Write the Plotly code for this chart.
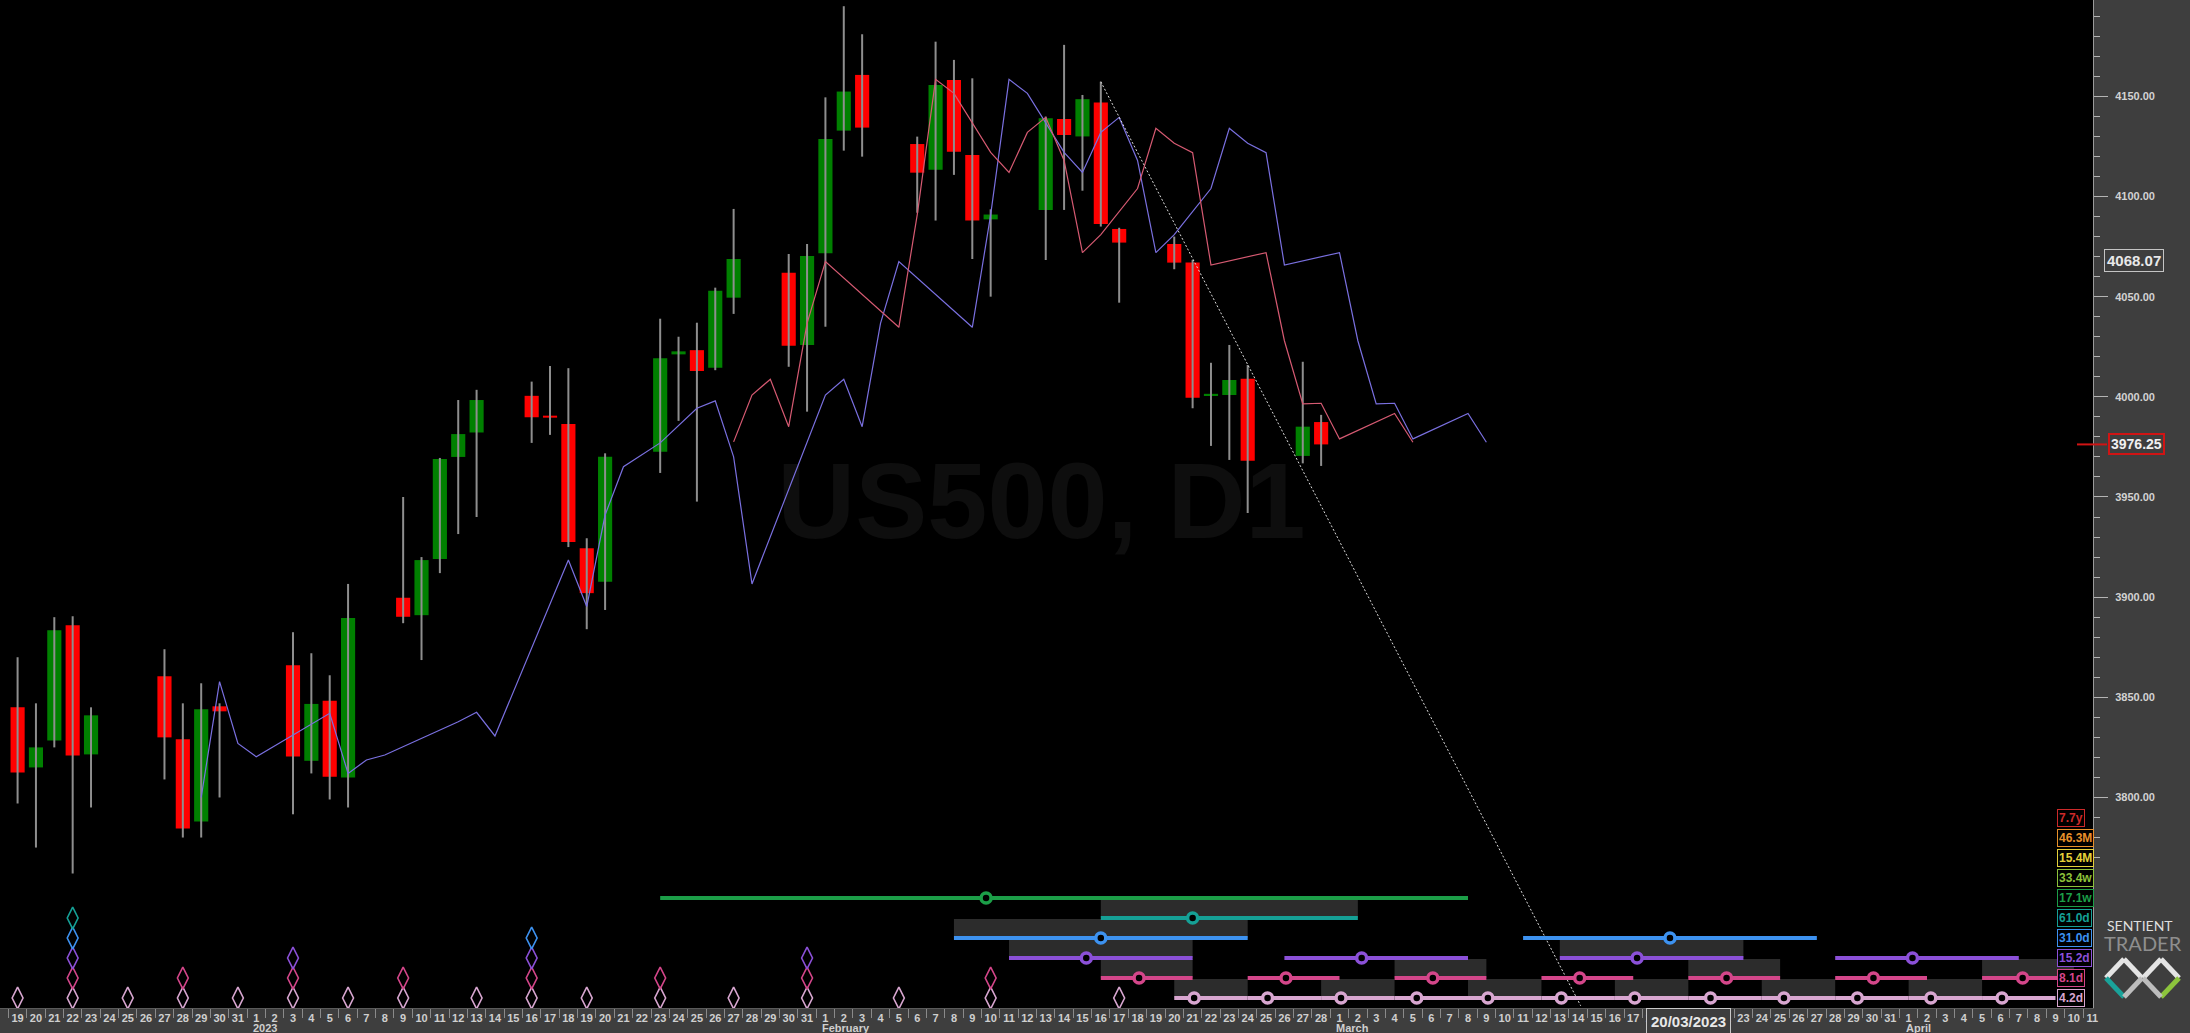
import plotly.graph_objects as go

DAY_MS = 86400000

# ---------------- price data (US500, daily) ----------------
dates = ["2022-12-19", "2022-12-20", "2022-12-21", "2022-12-22", "2022-12-23", "2022-12-27", "2022-12-28",
         "2022-12-29", "2022-12-30", "2023-01-03", "2023-01-04", "2023-01-05", "2023-01-06", "2023-01-09",
         "2023-01-10", "2023-01-11", "2023-01-12", "2023-01-13", "2023-01-16", "2023-01-17", "2023-01-18",
         "2023-01-19", "2023-01-20", "2023-01-23", "2023-01-24", "2023-01-25", "2023-01-26", "2023-01-27",
         "2023-01-30", "2023-01-31", "2023-02-01", "2023-02-02", "2023-02-03", "2023-02-06", "2023-02-07",
         "2023-02-08", "2023-02-09", "2023-02-10", "2023-02-13", "2023-02-14", "2023-02-15", "2023-02-16",
         "2023-02-17", "2023-02-20", "2023-02-21", "2023-02-22", "2023-02-23", "2023-02-24", "2023-02-27",
         "2023-02-28"]
opens = [3845, 3815, 3828.5, 3886, 3821.5, 3860.5, 3829, 3788, 3845.5, 3866, 3818.3, 3848.3, 3810, 3899.7,
         3891, 3919, 3970, 3982.2, 4000.5, 3990.6, 3986.4, 3924.4, 3907.7, 3972.6, 4021.2, 4023.3, 4014.5,
         4049.5, 4062, 4025.9, 4071.7, 4132.9, 4160.7, 4126.2, 4113.3, 4158.2, 4120.7, 4088.6, 4093.3, 4138.7,
         4130, 4146.9, 4083.8, 4076.3, 4067, 4000.7, 4000.9, 4009, 3970.5, 3987.4]
highs = [3870, 3847, 3890, 3890.5, 3845, 3874, 3847, 3857, 3847, 3882.5, 3872, 3861, 3906.6, 3950,
         3920, 3969.5, 3998.4, 4003.5, 4007.6, 4015.4, 4014.3, 3929.4, 3971.8, 4039, 4030, 4037, 4054.5,
         4093.8, 4071.3, 4076.3, 4149.5, 4195, 4181, 4129.9, 4177.3, 4168.2, 4159, 4093.6, 4139.9, 4175.7,
         4150.7, 4157.3, 4084.4, 4080, 4068.3, 4017, 4025.9, 4015.9, 4017.5, 3991]
lows = [3797, 3775, 3825, 3762, 3795, 3809, 3780, 3780, 3800, 3791.6, 3812, 3799, 3795, 3887,
        3868.6, 3912, 3931.5, 3940, 3977, 3981, 3925, 3884, 3893.6, 3962, 3988, 3947.7, 4013.3,
        4041.4, 4015, 3992.6, 4035, 4122.9, 4119.9, 4091.9, 4088, 4110.8, 4068.8, 4050, 4068.3, 4093.3,
        4102.9, 4085, 4047, 4063.7, 3994.3, 3975.5, 3968.5, 3942, 3966.8, 3965.5]
closes = [3812.5, 3825, 3883.5, 3821, 3841, 3830, 3784.5, 3844, 3843, 3820.4, 3846.7, 3810.4, 3889.6, 3890.2,
          3918.5, 3969, 3981.4, 3998.4, 3989.8, 3989.6, 3927.5, 3902, 3970.1, 4019.2, 4022.7, 4012.9, 4053,
          4068.8, 4025.5, 4070.3, 4128.7, 4152.4, 4134.4, 4111.9, 4155.7, 4122.4, 4088, 4091, 4139.1, 4130.7,
          4148.6, 4086.3, 4077, 4067, 3999.6, 4001.5, 4008.4, 3968.1, 3985.1, 3976.25]

# displaced price lines (FLDs)
fld_long_dates = ["2022-12-29", "2022-12-30", "2022-12-31", "2023-01-01", "2023-01-05", "2023-01-06",
                  "2023-01-07", "2023-01-08", "2023-01-12", "2023-01-13", "2023-01-14", "2023-01-18",
                  "2023-01-19", "2023-01-20", "2023-01-21", "2023-01-23", "2023-01-25", "2023-01-26",
                  "2023-01-27", "2023-01-28", "2023-02-01", "2023-02-02", "2023-02-03", "2023-02-04",
                  "2023-02-05", "2023-02-09", "2023-02-10", "2023-02-11", "2023-02-12", "2023-02-14",
                  "2023-02-15", "2023-02-16", "2023-02-17", "2023-02-18", "2023-02-19", "2023-02-20",
                  "2023-02-22", "2023-02-23", "2023-02-24", "2023-02-25", "2023-02-26", "2023-03-01",
                  "2023-03-02", "2023-03-03", "2023-03-04", "2023-03-05", "2023-03-08", "2023-03-09"]
fld_long_values = [3800, 3857.8, 3827, 3820.3, 3842, 3812, 3818.7, 3821.2, 3837.8, 3842.5, 3830.7, 3918.5,
                   3895.3, 3941, 3965.1, 3977, 3994.3, 3998, 3970, 3906.6, 4000.9, 4008.8, 3985.1, 4036.7,
                   4067.5, 4034.7, 4090.8, 4158.5, 4151.5, 4122, 4112, 4132, 4139.5, 4118, 4072, 4081,
                   4104, 4134, 4126.6, 4121.9, 4065.8, 4072, 4028, 3996.5, 3996.8, 3979, 3991.7, 3977.3]
fld_short_dates = ["2023-01-27", "2023-01-28", "2023-01-29", "2023-01-30", "2023-01-31", "2023-02-01",
                   "2023-02-05", "2023-02-06", "2023-02-07", "2023-02-08", "2023-02-10", "2023-02-11",
                   "2023-02-12", "2023-02-13", "2023-02-14", "2023-02-15", "2023-02-16", "2023-02-18",
                   "2023-02-19", "2023-02-20", "2023-02-21", "2023-02-22", "2023-02-25", "2023-02-26",
                   "2023-02-27", "2023-02-28", "2023-03-01", "2023-03-04", "2023-03-05"]
fld_short_values = [3977.5, 4000.9, 4008.8, 3985.1, 4036.7, 4067.5, 4034.7, 4090.8, 4158.5, 4151.5, 4122,
                    4112, 4132, 4139.5, 4118, 4072, 4081, 4104, 4134, 4126.6, 4121.9, 4065.8, 4072, 4028,
                    3996.5, 3996.8, 3979, 3991.7, 3977.3]

trend_dates = ["2023-02-16", "2023-03-14 03:20"]
trend_values = [4157.3, 3696.0]

price_ticks = [3800, 3850, 3900, 3950, 4000, 4050, 4100, 4150]
crosshair_price = 4068.07
crosshair_date = "2023-03-20"
month_dates = ["2023-01-01", "2023-02-01", "2023-03-01", "2023-04-01"]
month_labels = ["2023", "February", "March", "April"]

# ---------------- cycle panel data ----------------
cycle_labels = ["4.2d", "8.1d", "15.2d", "31.0d", "61.0d", "17.1w", "33.4w", "15.4M", "46.3M", "7.7y"]

troughs_4_2d = ["2022-12-19", "2022-12-22", "2022-12-25", "2022-12-28", "2022-12-31", "2023-01-03",
                "2023-01-06", "2023-01-09", "2023-01-13", "2023-01-16", "2023-01-19", "2023-01-23",
                "2023-01-27", "2023-01-31", "2023-02-05", "2023-02-10", "2023-02-17"]
troughs_8_1d = ["2022-12-22", "2022-12-28", "2023-01-03", "2023-01-09", "2023-01-16", "2023-01-23",
                "2023-01-31", "2023-02-10"]
troughs_15_2d = ["2022-12-22", "2023-01-03", "2023-01-16", "2023-01-31"]
troughs_31d = ["2022-12-22", "2023-01-16"]
troughs_61d = ["2022-12-22"]

# projected trough ranges: (start, end, expected trough, shaded)
proj_4_2d = [("2023-02-20", "2023-02-24", "2023-02-21 02:00", True),
             ("2023-02-24", "2023-02-28", "2023-02-25 02:00", False),
             ("2023-02-28", "2023-03-04", "2023-03-01 02:00", True),
             ("2023-03-04", "2023-03-08", "2023-03-05 05:00", False),
             ("2023-03-08", "2023-03-12", "2023-03-09 02:00", True),
             ("2023-03-12", "2023-03-16", "2023-03-13 02:00", False),
             ("2023-03-16", "2023-03-20", "2023-03-17 02:00", True),
             ("2023-03-20", "2023-03-24", "2023-03-21 05:00", False),
             ("2023-03-24", "2023-03-28", "2023-03-25 05:00", True),
             ("2023-03-28", "2023-04-01", "2023-03-29 05:00", False),
             ("2023-04-01", "2023-04-05", "2023-04-02 05:00", True),
             ("2023-04-05", "2023-04-09", "2023-04-06 02:00", False)]
proj_8_1d = [("2023-02-16", "2023-02-21", "2023-02-18 02:00", True),
             ("2023-02-24", "2023-03-01", "2023-02-26 02:00", False),
             ("2023-03-04", "2023-03-09", "2023-03-06 02:00", True),
             ("2023-03-12", "2023-03-17", "2023-03-14 02:00", False),
             ("2023-03-20", "2023-03-25", "2023-03-22 02:00", True),
             ("2023-03-28", "2023-04-02", "2023-03-30 02:00", False),
             ("2023-04-05", "2023-04-10", "2023-04-07 05:00", True)]
proj_15_2d = [("2023-02-11", "2023-02-21", "2023-02-15 05:00", True),
              ("2023-02-26", "2023-03-08", "2023-03-02 05:00", False),
              ("2023-03-13", "2023-03-23", "2023-03-17 05:00", True),
              ("2023-03-28", "2023-04-07", "2023-04-01 05:00", False)]
proj_31d = [("2023-02-08", "2023-02-24", "2023-02-16", True),
            ("2023-03-11", "2023-03-27", "2023-03-19", False)]
proj_61d = [("2023-02-16", "2023-03-02", "2023-02-21", True)]
proj_17_1w = [("2023-01-23", "2023-03-08", "2023-02-09 18:00", False)]

# ---------------- styles ----------------
BG_PANEL = "#3e3e3e"
cycle_colors = ["#d8a6d0", "#d4468a", "#8b50d8", "#3d92f0", "#15a096",
                "#1c9e48", "#8dc23a", "#e4d03a", "#e8902a", "#cc2a2a"]
FONT = "Liberation Sans"
PLOT_W, PLOT_H = 2093.0, 1008.0


def px_x(px):
    return px / PLOT_W


def px_y(py):
    return (PLOT_H - py) / PLOT_H


fig = go.Figure()

# watermark (behind the traces)
fig.add_shape(type="rect", xref="paper", yref="paper",
              x0=px_x(700), x1=px_x(1383), y0=px_y(560), y1=px_y(420),
              line=dict(width=0), fillcolor="rgba(0,0,0,0)", layer="below",
              label=dict(text="<b>US500, D1</b>", textposition="middle center",
                         font=dict(size=108, color="#0e0e0e", family=FONT)))

# candle wicks
wick_x, wick_y = [], []
for d, h, l in zip(dates, highs, lows):
    wick_x += [d, d, None]
    wick_y += [l, h, None]
fig.add_trace(go.Scatter(x=wick_x, y=wick_y, mode="lines",
                         line=dict(color="#8e8e8e", width=2), hoverinfo="skip"))

# candle bodies
body_base = [min(o, c) for o, c in zip(opens, closes)]
body_len = [abs(c - o) for o, c in zip(opens, closes)]
body_col = ["#008000" if c >= o else "#ff0000" for o, c in zip(opens, closes)]
fig.add_trace(go.Bar(x=dates, y=body_len, base=body_base, width=0.77 * DAY_MS,
                     marker=dict(color=body_col, line=dict(width=0)), hoverinfo="skip"))

# FLD lines
fig.add_trace(go.Scatter(x=fld_long_dates, y=fld_long_values, mode="lines",
                         line=dict(color="#7a70e0", width=1.2), hoverinfo="skip"))
fig.add_trace(go.Scatter(x=fld_short_dates, y=fld_short_values, mode="lines",
                         line=dict(color="#d65a72", width=1.2), hoverinfo="skip"))

# trend line
fig.add_trace(go.Scatter(x=trend_dates, y=trend_values, mode="lines",
                         line=dict(color="#dcdcdc", width=1, dash="2px,2px"), hoverinfo="skip"))

# ---------------- cycle panel ----------------
row_troughs = [troughs_4_2d, troughs_8_1d, troughs_15_2d, troughs_31d, troughs_61d]
row_proj = [proj_4_2d, proj_8_1d, proj_15_2d, proj_31d, proj_61d, proj_17_1w]

for k, proj in enumerate(row_proj):
    col = cycle_colors[k]
    sx, sy, mx, my = [], [], [], []
    for s, e, m, shaded in proj:
        sx += [s, e, None]
        sy += [k, k, None]
        mx.append(m)
        my.append(k)
        if shaded:
            fig.add_shape(type="rect", xref="x", yref="y2", x0=s, x1=e, y0=k, y1=k + 0.95,
                          fillcolor="#2c2c2c", line=dict(width=0), layer="below")
    fig.add_trace(go.Scatter(x=sx, y=sy, yaxis="y2", mode="lines",
                             line=dict(color=col, width=4), hoverinfo="skip"))
    fig.add_trace(go.Scatter(x=mx, y=my, yaxis="y2", mode="markers",
                             marker=dict(symbol="circle", size=10, color="#000000",
                                         line=dict(color=col, width=3.5)), hoverinfo="skip"))

for k, tr in enumerate(row_troughs):
    col = cycle_colors[k]
    fig.add_trace(go.Scatter(x=tr, y=[k] * len(tr), yaxis="y2", mode="markers",
                             marker=dict(symbol="diamond-tall-open", size=15.5, color=col,
                                         line=dict(color=col, width=1.6)), hoverinfo="skip"))

annotations = []
for k, lab in enumerate(cycle_labels):
    annotations.append(dict(xref="paper", yref="y2", x=px_x(2057), y=k, xanchor="left", yanchor="middle",
                            text="<b>%s</b>" % lab, showarrow=False,
                            font=dict(family=FONT, size=12, color=cycle_colors[k]),
                            bgcolor="#000000", bordercolor=cycle_colors[k], borderwidth=1, borderpad=1))

# price labels on the axis
annotations.append(dict(xref="paper", yref="y", x=px_x(2134), y=crosshair_price, xanchor="center",
                        yanchor="middle", text="<b>%.2f</b>" % crosshair_price, showarrow=False,
                        font=dict(family=FONT, size=15, color="#e8e8e8"), bgcolor=BG_PANEL,
                        bordercolor="#c4c4c4", borderwidth=1, borderpad=2))
annotations.append(dict(xref="paper", yref="y", x=px_x(2136.5), y=closes[-1], xanchor="center",
                        yanchor="middle", text="<b>%.2f</b>" % closes[-1], showarrow=False,
                        font=dict(family=FONT, size=14, color="#f0f0f0"), bgcolor=BG_PANEL,
                        bordercolor="#d01414", borderwidth=2, borderpad=1))
fig.add_shape(type="line", xref="paper", yref="y", x0=px_x(2077), x1=px_x(2107),
              y0=closes[-1], y1=closes[-1], line=dict(color="#d01414", width=2))

# month labels under the day numbers
for md, ml in zip(month_dates, month_labels):
    annotations.append(dict(xref="x", yref="paper", x=md, y=px_y(1027.5), xanchor="left", yanchor="middle",
                            xshift=-5, text="<b>%s</b>" % ml, showarrow=False,
                            font=dict(family=FONT, size=11, color="#cfcfcf")))

# crosshair date box
annotations.append(dict(xref="x", yref="paper", x=crosshair_date, y=px_y(1021), xanchor="center",
                        yanchor="middle", text="<b>20/03/2023</b>", showarrow=False,
                        font=dict(family=FONT, size=15, color="#e8e8e8"), bgcolor=BG_PANEL,
                        bordercolor="#c8c8c8", borderwidth=1, borderpad=4))

# logo text
annotations.append(dict(xref="paper", yref="paper", x=px_x(2140), y=px_y(925), xanchor="center",
                        yanchor="middle", text="SENTIENT", showarrow=False,
                        font=dict(family="Lato", size=14, color="#dedede")))
annotations.append(dict(xref="paper", yref="paper", x=px_x(2143), y=px_y(943), xanchor="center",
                        yanchor="middle", text="TRADER", showarrow=False,
                        font=dict(family="Lato", size=20, color="#8e8e8e")))

# logo mark (two linked diamonds)
logo_segments = [
    ((2106, 978), (2124, 959), "#e4e4e4"), ((2124, 959), (2142, 978), "#e4e4e4"),
    ((2106, 978), (2124, 997), "#1aa39a"), ((2124, 997), (2142, 978), "#bdbdbd"),
    ((2143, 978), (2161, 959), "#e4e4e4"), ((2161, 959), (2179, 978), "#e4e4e4"),
    ((2179, 978), (2161, 997), "#8cc43c"), ((2161, 997), (2143, 978), "#bdbdbd"),
]
for (ax_, ay_), (bx_, by_), c in logo_segments:
    fig.add_shape(type="line", xref="paper", yref="paper", x0=px_x(ax_), y0=px_y(ay_),
                  x1=px_x(bx_), y1=px_y(by_), line=dict(color=c, width=5))

minor_price_ticks = [v for v in range(3770, 4200, 10) if v not in price_ticks]

fig.update_layout(
    width=2190, height=1033,
    margin=dict(l=0, r=97, t=0, b=25, pad=0, autoexpand=False),
    paper_bgcolor=BG_PANEL, plot_bgcolor="#000000",
    showlegend=False, hovermode=False,
    annotations=annotations,
    xaxis=dict(type="date", range=["2022-12-18 01:00", "2023-04-11 01:00"],
               tickmode="linear", tick0="2022-12-19", dtick=DAY_MS, tickformat="%-d",
               ticks="", showgrid=False, zeroline=False, showline=True, linecolor="#5a5a5a",
               tickfont=dict(family=FONT, size=11, color="#cfcfcf", weight="bold"),
               minor=dict(ticks="outside", ticklen=9, tickcolor="#8a8a8a", tickwidth=1,
                          tick0="2022-12-18 12:00", dtick=DAY_MS, showgrid=False)),
    yaxis=dict(range=[3694.9, 4198.1], side="right", tickmode="array", tickvals=price_ticks,
               tickformat=".2f", ticks="outside", ticklen=14, tickcolor="#b4b4b4", tickwidth=1,
               ticklabelstandoff=5,
               minor=dict(tickmode="array", tickvals=minor_price_ticks, ticks="outside", ticklen=6,
                          tickcolor="#b4b4b4", tickwidth=1, showgrid=False),
               showgrid=False, zeroline=False, showline=True, linecolor="#9a9a9a", linewidth=1,
               tickfont=dict(family=FONT, size=11, color="#d2d2d2", weight="bold")),
    yaxis2=dict(overlaying="y", range=[-0.5, 49.9], visible=False, showgrid=False, zeroline=False),
)

fig.write_html("out.html", config={"displayModeBar": False},
               post_script="document.body.style.margin='0';document.body.style.overflow='hidden';")
